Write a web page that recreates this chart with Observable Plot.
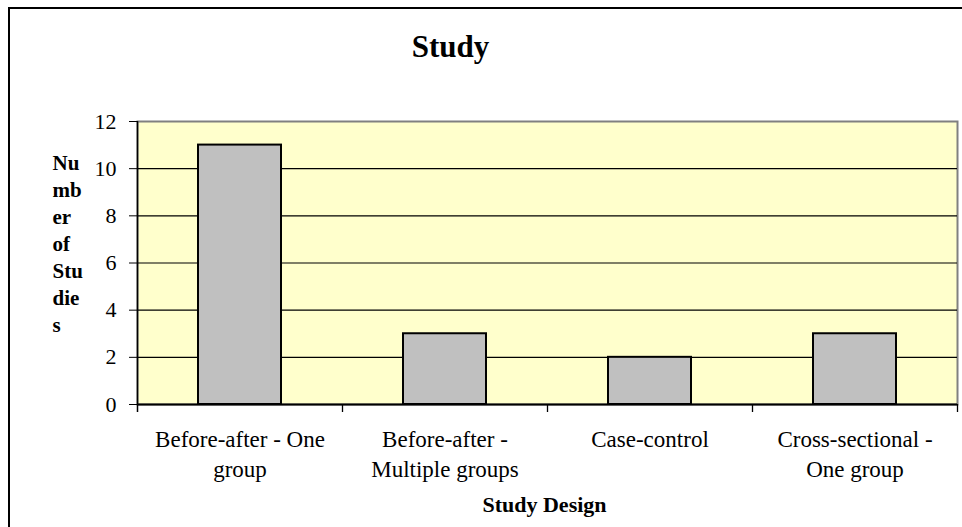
<!DOCTYPE html>
<html>
<head>
<meta charset="utf-8">
<script src="https://cdn.jsdelivr.net/npm/d3@7"></script>
<script src="https://cdn.jsdelivr.net/npm/@observablehq/plot@0.6"></script>
<style>
  html, body { margin: 0; padding: 0; background: #fff; overflow: hidden; }
  #wrap { position: relative; width: 962px; height: 527px; overflow: hidden; }
  #border { position: absolute; left: 8px; top: 7px; width: 1000px; height: 600px; border: 2px solid #000; box-sizing: border-box; pointer-events: none; }
  #chart { position: absolute; left: 0; top: 0; }
  #chart svg, #chart svg text { font-family: "Liberation Serif", "Times New Roman", serif !important; }
</style>
</head>
<body>
<div id="wrap">
  <div id="chart"></div>
  <div id="border"></div>
</div>
<script>
// Data
const categories = [
  "Before-after - One group",
  "Before-after - Multiple groups",
  "Case-control",
  "Cross-sectional - One group"
];
const categoryLabels = [
  "Before-after - One\ngroup",
  "Before-after -\nMultiple groups",
  "Case-control",
  "Cross-sectional -\nOne group"
];
const studyCounts = [11, 3, 2, 3];
const yTicks = [0, 2, 4, 6, 8, 10, 12];
const gridValues = [2, 4, 6, 8, 10];
const chartTitle = "Study";
const xTitle = "Study Design";
const yTitle = "Nu\nmb\ner\nof\nStu\ndie\ns";

const data = categories.map((c, i) => ({category: c, label: categoryLabels[i], count: studyCounts[i]}));

const W = 962, H = 527;
const mL = 137, mR = 5, mT = 121, mB = 123;
const frameH = H - mT - mB;
const bandW = (W - mL - mR) / categories.length;
const font = "Liberation Serif";

const chart = Plot.plot({
  width: W,
  height: H,
  marginLeft: mL,
  marginRight: mR,
  marginTop: mT,
  marginBottom: mB,
  style: {fontFamily: font, color: "#000", background: "transparent", overflow: "visible"},
  x: {domain: categories, padding: 0, axis: null},
  y: {domain: [0, 12], axis: null},
  marks: [
    Plot.frame({fill: "#FFFFCC", stroke: "#808080", strokeWidth: 2}),
    Plot.ruleY(gridValues, {stroke: "#000", strokeWidth: 1.2}),
    Plot.barY(data, {
      x: "category", y: "count",
      fill: "#C0C0C0", stroke: "#000", strokeWidth: 2,
      insetLeft: 61, insetRight: 61
    }),
    Plot.ruleY([0], {stroke: "#000", strokeWidth: 2}),
    // left axis line (extends into first category tick)
    Plot.ruleX([categories[0]], {x: d => d, dx: -bandW / 2, stroke: "#000", strokeWidth: 1.5, insetBottom: -8}),
    // category boundary ticks
    Plot.ruleX(categories.slice(1), {x: d => d, dx: -bandW / 2, stroke: "#000", strokeWidth: 1.3, insetTop: frameH, insetBottom: -8}),
    Plot.ruleX([categories[categories.length - 1]], {x: d => d, dx: bandW / 2, stroke: "#000", strokeWidth: 1.3, insetTop: frameH, insetBottom: -8}),
    // y axis
    Plot.axisY({ticks: yTicks, label: null, tickSize: 8, tickPadding: 13, fontSize: 22, fontFamily: font, tickFormat: d => String(d), stroke: "#000"}),
    // x category labels
    Plot.text(data, {
      x: "category", text: "label",
      frameAnchor: "bottom", lineAnchor: "top", dy: 21,
      fontSize: 23, fontFamily: font, lineHeight: 1.3, fill: "#000"
    }),
    // chart title
    Plot.text([chartTitle], {
      text: d => d, frameAnchor: "top-left", textAnchor: "middle", lineAnchor: "top",
      dx: 450 - mL, dy: 34 - mT, fontSize: 31, fontFamily: font, fontWeight: "bold", fill: "#000"
    }),
    // x axis title
    Plot.text([xTitle], {
      text: d => d, frameAnchor: "top-left", textAnchor: "middle", lineAnchor: "top",
      dx: 544 - mL, dy: 496 - mT, fontSize: 22, fontFamily: font, fontWeight: "bold", fill: "#000"
    }),
    // y axis title (wrapped)
    Plot.text([yTitle], {
      text: d => d, frameAnchor: "top-left", textAnchor: "start", lineAnchor: "top",
      dx: 52 - mL, dy: 150 - mT, fontSize: 21, fontFamily: font, lineHeight: 1.29, fontWeight: "bold", fill: "#000"
    })
  ]
});
document.getElementById("chart").appendChild(chart);
</script>
</body>
</html>
